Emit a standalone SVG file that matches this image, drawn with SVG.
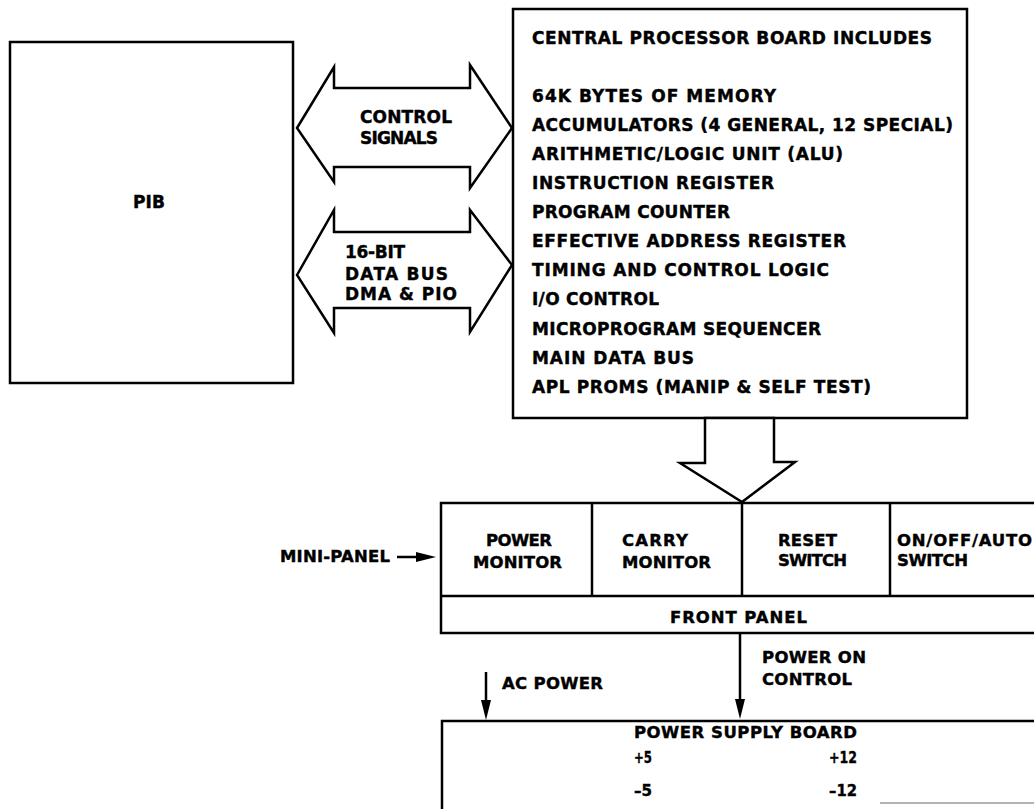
<svg xmlns="http://www.w3.org/2000/svg" width="1034" height="809" viewBox="0 0 1034 809">
<style>
.box{fill:#fff;stroke:#000;stroke-width:2.5;stroke-linejoin:miter}
.ln{fill:none;stroke:#000;stroke-width:2.5}
.t{font-family:"DejaVu Sans","Liberation Sans",sans-serif;font-weight:bold;font-size:17px;fill:#000;stroke:#000;stroke-width:0.4}
.s{font-size:16.5px}
</style>
<defs>
<marker id="ah" viewBox="0 0 20 10" refX="0" refY="5" markerWidth="20" markerHeight="10" markerUnits="userSpaceOnUse" orient="auto">
<path d="M0,0 L20,5 L0,10 z" fill="#000"/>
</marker>
</defs>
<rect width="1034" height="809" fill="#fff"/>

<g id="pib">
<rect class="box" x="10" y="42" width="283" height="341"/>
<text class="t" x="133" y="208" textLength="32">PIB</text>
</g>

<g id="cpu">
<rect class="box" x="513" y="9" width="454" height="409"/>
<text class="t" x="532" y="44" textLength="400">CENTRAL PROCESSOR BOARD INCLUDES</text>
<text class="t" x="532" y="102" textLength="244">64K BYTES OF MEMORY</text>
<text class="t" x="532" y="131" textLength="421">ACCUMULATORS (4 GENERAL, 12 SPECIAL)</text>
<text class="t" x="532" y="160" textLength="311">ARITHMETIC/LOGIC UNIT (ALU)</text>
<text class="t" x="532" y="189" textLength="242">INSTRUCTION REGISTER</text>
<text class="t" x="532" y="218" textLength="198">PROGRAM COUNTER</text>
<text class="t" x="532" y="247" textLength="314">EFFECTIVE ADDRESS REGISTER</text>
<text class="t" x="532" y="276" textLength="297">TIMING AND CONTROL LOGIC</text>
<text class="t" x="532" y="305" textLength="127">I/O CONTROL</text>
<text class="t" x="532" y="335" textLength="289">MICROPROGRAM SEQUENCER</text>
<text class="t" x="532" y="364" textLength="162">MAIN DATA BUS</text>
<text class="t" x="532" y="393" textLength="339">APL PROMS (MANIP &amp; SELF TEST)</text>
</g>

<g id="front-panel">
<rect class="box" x="441" y="503" width="610" height="130"/>
<line class="ln" x1="441" y1="596" x2="1051" y2="596"/>
<line class="ln" x1="592" y1="503" x2="592" y2="596"/>
<line class="ln" x1="742" y1="503" x2="742" y2="596"/>
<line class="ln" x1="890" y1="503" x2="890" y2="596"/>
<text class="t s" x="486" y="546" textLength="66">POWER</text>
<text class="t s" x="473" y="568" textLength="89">MONITOR</text>
<text class="t s" x="622" y="546" textLength="66">CARRY</text>
<text class="t s" x="622" y="568" textLength="89">MONITOR</text>
<text class="t s" x="778" y="546" textLength="59">RESET</text>
<text class="t s" x="778" y="566" textLength="69">SWITCH</text>
<text class="t s" x="897" y="546" textLength="135">ON/OFF/AUTO</text>
<text class="t s" x="897" y="566" textLength="71">SWITCH</text>
<text class="t s" x="670" y="623" textLength="137">FRONT PANEL</text>
</g>

<g id="power-supply">
<path class="ln" d="M442,812 L442,721 L1040,721"/>
<line x1="880" y1="803" x2="1034" y2="803" stroke="#9a9a9a" stroke-width="1.5"/>
<text class="t s" x="634" y="738" textLength="223">POWER SUPPLY BOARD</text>
<text class="t s" x="634" y="763" textLength="18" lengthAdjust="spacingAndGlyphs">+5</text>
<text class="t s" x="829" y="763" textLength="28" lengthAdjust="spacingAndGlyphs">+12</text>
<text class="t s" x="634" y="796" textLength="18" lengthAdjust="spacingAndGlyphs">–5</text>
<text class="t s" x="829" y="796" textLength="28" lengthAdjust="spacingAndGlyphs">–12</text>
</g>

<g id="connectors">
<polygon class="box" points="297,128 334,67 334,88 470,88 470,65 512,128 470,188 470,167 334,167 334,182"/>
<text class="t" x="360" y="123" textLength="92">CONTROL</text>
<text class="t" x="360" y="144" textLength="78">SIGNALS</text>
<polygon class="box" points="297,275 334,210 334,232 470,232 470,210 512,265 470,332 470,308 334,308 334,333"/>
<text class="t" x="345" y="258" textLength="60">16-BIT</text>
<text class="t" x="345" y="280" textLength="103">DATA BUS</text>
<text class="t" x="345" y="300" textLength="112">DMA &amp; PIO</text>
<polygon class="box" points="705,418 705,463 680,463 742,502 795,462 774,462 774,418"/>
<line class="ln" x1="397" y1="557" x2="416" y2="557" marker-end="url(#ah)"/>
<text class="t s" x="280" y="562" textLength="110">MINI-PANEL</text>
<line class="ln" x1="486" y1="672" x2="486" y2="700" marker-end="url(#ah)"/>
<text class="t s" x="502" y="689" textLength="101">AC POWER</text>
<line class="ln" x1="740" y1="634" x2="740" y2="699" marker-end="url(#ah)"/>
<text class="t s" x="762" y="663" textLength="104">POWER ON</text>
<text class="t s" x="762" y="685" textLength="90">CONTROL</text>
</g>
</svg>
